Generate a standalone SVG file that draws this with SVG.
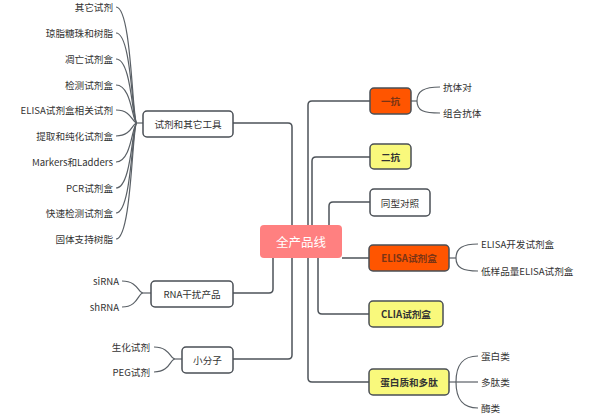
<svg xmlns="http://www.w3.org/2000/svg" width="589" height="416" viewBox="0 0 589 416">
<style>
  text { font-family: "Noto Sans CJK SC", "Liberation Sans", sans-serif; font-size: 9.6px; fill: #333333; dominant-baseline: central; }
  .lbl { text-anchor: middle; }
  .bold { font-weight: bold; }
  .leaf { fill: #333333; }
  .end { text-anchor: end; }
  .box { fill: #ffffff; stroke: #4a4f55; stroke-width: 1.5; }
  .orange { fill: #ff5500; stroke: #4a4f55; stroke-width: 1.5; }
  .yellow { fill: #f9f97c; stroke: #4a4f55; stroke-width: 1.5; }
  .conn path { fill: none; stroke: #4d5359; stroke-width: 1.5; }
  .thin path { fill: none; stroke: #5a6066; stroke-width: 1.2; }
</style>
<rect width="589" height="416" fill="#ffffff"/>
<g id="connectors" class="conn">
  <path d="M292,225 V127 Q292,123 288,123 H233"/>
  <path d="M308,225 V105 Q308,101 312,101 H370"/>
  <path d="M312,225 V161 Q312,157 316,157 H370"/>
  <path d="M329,225 V206 Q329,202 333,202 H370"/>
  <path d="M342,258 H369"/>
  <path d="M318,258 V310 Q318,314 322,314 H369"/>
  <path d="M308,258 V378 Q308,382 312,382 H369"/>
  <path d="M273,258 V289 Q273,293 269,293 H233"/>
  <path d="M292,258 V355 Q292,359 288,359 H233"/>
</g>
<g id="leaf-connectors" class="thin">
  <path d="M137,123 H143"/>
  <path d="M137,123 C132,123 132,7 116,7"/>
  <path d="M137,123 C132,123 132,33 116,33"/>
  <path d="M137,123 C132,123 132,59 116,59"/>
  <path d="M137,123 C132,123 132,85 116,85"/>
  <path d="M137,123 C132,123 132,110 116,110"/>
  <path d="M137,123 C132,123 132,136 116,136"/>
  <path d="M137,123 C132,123 132,162 116,162"/>
  <path d="M137,123 C132,123 132,188 116,188"/>
  <path d="M137,123 C132,123 132,213 116,213"/>
  <path d="M137,123 C132,123 132,239 116,239"/>
  <path d="M143,293 H151"/>
  <path d="M143,293 C138,293 138,281 122,281"/>
  <path d="M143,293 C138,293 138,307 122,307"/>
  <path d="M175,359 H182"/>
  <path d="M175,359 C170,359 170,347 154,347"/>
  <path d="M175,359 C170,359 170,372 154,372"/>
  <path d="M411,101 H417"/>
  <path d="M417,101 C417,91 424,87 440,87"/>
  <path d="M417,101 C417,111 424,113 440,113"/>
  <path d="M449,258 H456"/>
  <path d="M456,258 C456,248 463,244 478,244"/>
  <path d="M456,258 C456,268 463,271 478,271"/>
  <path d="M449,382 H456"/>
  <path d="M456,382 C456,364 463,356 478,356"/>
  <path d="M456,382 H478"/>
  <path d="M456,382 C456,400 463,408 478,408"/>
</g>
<g id="center">
  <rect x="260" y="225" width="82" height="33" rx="4" fill="#ff8080"/>
  <text x="301" y="241.5" class="lbl" style="font-size:12.5px;fill:#ffffff">全产品线</text>
</g>
<g id="tools">
  <rect x="143" y="111" width="90" height="26" rx="4" class="box"/>
  <text x="188" y="124" class="lbl">试剂和其它工具</text>
</g>
<g id="tools-leaves">
  <text x="113" y="7" class="end">其它试剂</text>
  <text x="113" y="33" class="end">琼脂糖珠和树脂</text>
  <text x="113" y="59" class="end">凋亡试剂盒</text>
  <text x="113" y="85" class="end">检测试剂盒</text>
  <text x="113" y="110" class="end">ELISA试剂盒相关试剂</text>
  <text x="113" y="136" class="end">提取和纯化试剂盒</text>
  <text x="113" y="162" class="end">Markers和Ladders</text>
  <text x="113" y="188" class="end">PCR试剂盒</text>
  <text x="113" y="213" class="end">快速检测试剂盒</text>
  <text x="113" y="239" class="end">固体支持树脂</text>
</g>
<g id="rna">
  <rect x="151" y="281" width="82" height="26" rx="4" class="box"/>
  <text x="192" y="294" class="lbl">RNA干扰产品</text>
  <text x="119" y="281" class="end">siRNA</text>
  <text x="119" y="307" class="end">shRNA</text>
</g>
<g id="small-molecule">
  <rect x="182" y="347" width="51" height="26" rx="4" class="box"/>
  <text x="207.5" y="360" class="lbl">小分子</text>
  <text x="150" y="347" class="end">生化试剂</text>
  <text x="150" y="372" class="end">PEG试剂</text>
</g>
<g id="primary-antibody">
  <rect x="370" y="88" width="41" height="26" rx="4" class="orange"/>
  <text x="390.5" y="101" class="lbl bold" style="fill:#7a3415">一抗</text>
  <text x="443" y="87">抗体对</text>
  <text x="443" y="113">组合抗体</text>
</g>
<g id="secondary-antibody">
  <rect x="370" y="144" width="41" height="25" rx="4" class="yellow"/>
  <text x="390.5" y="156.5" class="lbl bold">二抗</text>
</g>
<g id="isotype">
  <rect x="370" y="189" width="60" height="27" rx="4" class="box"/>
  <text x="400" y="202.5" class="lbl">同型对照</text>
</g>
<g id="elisa">
  <rect x="369" y="245" width="80" height="26" rx="4" class="orange"/>
  <text x="409" y="258" class="lbl bold" style="fill:#7a3415">ELISA试剂盒</text>
  <text x="481" y="244">ELISA开发试剂盒</text>
  <text x="481" y="271">低样品量ELISA试剂盒</text>
</g>
<g id="clia">
  <rect x="369" y="301" width="74" height="26" rx="4" class="yellow"/>
  <text x="406" y="314" class="lbl bold">CLIA试剂盒</text>
</g>
<g id="protein">
  <rect x="369" y="369" width="80" height="26" rx="4" class="yellow"/>
  <text x="409" y="382" class="lbl bold">蛋白质和多肽</text>
  <text x="481" y="356">蛋白类</text>
  <text x="481" y="382">多肽类</text>
  <text x="481" y="408">酶类</text>
</g>
</svg>
